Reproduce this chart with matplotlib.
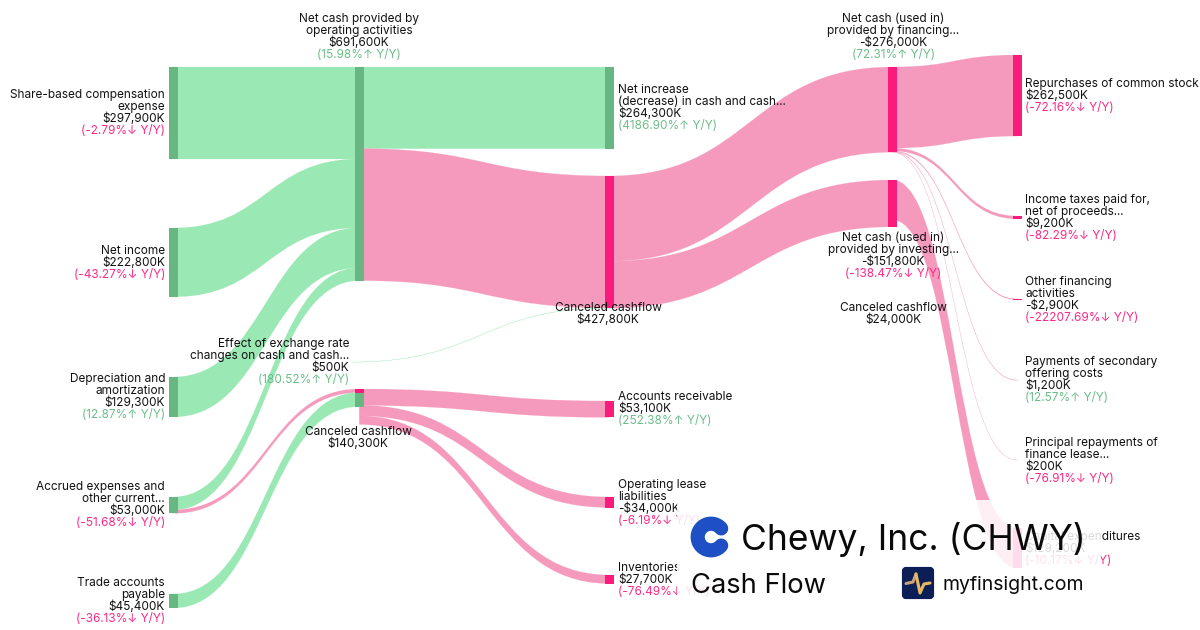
import numpy as np
import matplotlib
matplotlib.use("Agg")
import matplotlib.pyplot as plt
from matplotlib.path import Path
from matplotlib.patches import PathPatch, Rectangle, FancyBboxPatch

plt.rcParams['font.family'] = ['Inter', 'DejaVu Sans']

# ---------- data ----------
node_lines = [
    ["Share-based compensation", "expense"],
    ["Net income"],
    ["Depreciation and", "amortization"],
    ["Accrued expenses and", "other current..."],
    ["Trade accounts", "payable"],
    ["Net cash provided by", "operating activities"],
    ["Effect of exchange rate", "changes on cash and cash..."],
    ["Canceled cashflow"],
    ["Net increase", "(decrease) in cash and cash..."],
    ["Canceled cashflow"],
    ["Accounts receivable"],
    ["Operating lease", "liabilities"],
    ["Inventories"],
    ["Net cash (used in)", "provided by financing..."],
    ["Net cash (used in)", "provided by investing..."],
    ["Repurchases of common stock"],
    ["Income taxes paid for,", "net of proceeds..."],
    ["Other financing", "activities"],
    ["Payments of secondary", "offering costs"],
    ["Principal repayments of", "finance lease..."],
    ["Capital expenditures"],
    ["Canceled cashflow"],
]
node_values = [297900, 222800, 129300, 53000, 45400, 691600, 500, 140300, 264300, 427800,
               53100, -34000, 27700, -276000, -151800, 262500, 9200, -2900, 1200, 200, 129200, 24000]
node_yoy = [-2.79, -43.27, 12.87, -51.68, -36.13, 15.98, 180.52, None, 4186.90, None,
            252.38, -6.19, -76.49, 72.31, -138.47, -72.16, -82.29, -22207.69, 12.57, -76.91, -10.17, None]
node_kinds = list("gggggggppgppppppppppp") + ["n"]
node_kinds[7] = "g"; node_kinds[8] = "g"; node_kinds[9] = "p"

# link: source, target, value (K), kind
link_src = [0, 1, 2, 3, 3, 4, 5, 5, 6, 7, 7, 7, 9, 9, 13, 13, 13, 13, 13, 14]
link_dst = [5, 5, 5, 5, 7, 7, 8, 9, 9, 10, 11, 12, 13, 14, 15, 16, 17, 18, 19, 20]
link_val = [297900, 222800, 129300, 41600, 11400, 45400, 264300, 427300, 500, 53100, 34000, 27700,
            276000, 151800, 262500, 9200, 2900, 1200, 200, 129200]
link_kind = list("ggggpg") + ["g", "p", "g"] + ["p"] * 11

# ---------- layout (pixels) ----------
px_per_k = 92.0 / 297900
node_left = [169, 169, 169, 169, 169, 355, 348, 355, 605, 605, 605, 605, 605, 888, 888,
             1013, 1013, 1013, 1013, 1013, 1013, 885]
node_top = [67, 228, 377, 497, 594, 67, 362, 389, 67, 176, 401, 497, 575, 67, 180,
            55, 216, 299, 380, 460, 528, 300]
node_w = 8.5
# label: anchor x, alignment, centre y of first line
lab_x = [165] * 5 + [359, 349, 358] + [618, 608] + [618] * 3 + [893, 893] + [1025] * 6 + [893]
lab_ha = ["right"] * 5 + ["center", "right", "center", "left", "center"] + ["left"] * 3 + ["center"] * 2 + ["left"] * 6 + ["center"]
lab_y = [94, 250, 378, 486, 582, 18, 343, 431, 89, 307, 396, 484, 567, 18, 237,
         83, 199, 281, 361, 442, 536, 307]
PITCH = 12
FS = 8.52

GREEN_L, GREEN_D = "#9ae8b4", "#68b682"
PINK_L, PINK_D = "#f59abd", "#f91c7c"
TXT_G, TXT_P = "#6dbd8a", "#fb2a85"
INK = "#111111"

fig = plt.figure(figsize=(12, 6.3), dpi=100, facecolor="white")
ax = fig.add_axes([0, 0, 1, 1])
ax.set_xlim(0, 1200)
ax.set_ylim(630, 0)
ax.axis("off")

n = len(node_values)
in_sum = [sum(v for d, v in zip(link_dst, link_val) if d == i) for i in range(n)]
out_sum = [sum(v for s, v in zip(link_src, link_val) if s == i) for i in range(n)]
heights = [px_per_k * (in_sum[i] if in_sum[i] else out_sum[i]) for i in range(n)]

# links, stacked on their nodes
out_pos = list(node_top)
in_pos = list(node_top)
for s, d, v, k in zip(link_src, link_dst, link_val, link_kind):
    w = v * px_per_k
    x0 = node_left[s] + node_w / 2
    x1 = node_left[d] + node_w / 2
    xm = (x0 + x1) / 2
    y0, y1 = out_pos[s], in_pos[d]
    out_pos[s] += w
    in_pos[d] += w
    verts = [(x0, y0), (xm, y0), (xm, y1), (x1, y1),
             (x1, y1 + w), (xm, y1 + w), (xm, y0 + w), (x0, y0 + w), (x0, y0)]
    codes = [Path.MOVETO, Path.CURVE4, Path.CURVE4, Path.CURVE4,
             Path.LINETO, Path.CURVE4, Path.CURVE4, Path.CURVE4, Path.CLOSEPOLY]
    c = GREEN_L if k == "g" else PINK_L
    ax.add_patch(PathPatch(Path(verts, codes), facecolor=c, edgecolor=c, lw=0.12, zorder=1))

# nodes
for i in range(n):
    if node_kinds[i] == "n":
        continue
    c = GREEN_D if node_kinds[i] == "g" else PINK_D
    ax.add_patch(Rectangle((node_left[i], node_top[i]), node_w, heights[i], facecolor=c, edgecolor="none", zorder=2))
# the top of the small "Canceled cashflow" node comes from its pink inflow
ax.add_patch(Rectangle((node_left[7], node_top[7]), node_w, link_val[4] * px_per_k, facecolor=PINK_D, edgecolor="none", zorder=2.1))


def money(v):
    return ("-" if v < 0 else "") + "$" + f"{abs(v):,}K"


for i in range(n):
    y = lab_y[i]
    rows = [(t, INK) for t in node_lines[i]] + [(money(node_values[i]), INK)]
    if node_yoy[i] is not None:
        up = node_yoy[i] > 0
        rows.append((f"({node_yoy[i]:.2f}%{'↑' if up else '↓'} Y/Y)", TXT_G if up else TXT_P))
    for t, c in rows:
        ax.text(lab_x[i], y + 4.4, t, ha=lab_ha[i], va="baseline", fontsize=FS, color=c, zorder=3)
        y += PITCH

# branding panel
ax.add_patch(Rectangle((677, 500), 424, 122, facecolor="white", edgecolor="none", alpha=0.85, zorder=4))
ang = np.radians(np.linspace(40, 320, 80))
ax.plot(711 + 13.3 * np.cos(ang), 537 - 13.3 * np.sin(ang), color="#1f4fc4", lw=10.2,
        solid_capstyle="round", zorder=5)
ax.text(741, 550, "Chewy, Inc. (CHWY)", fontsize=25.55, color="#0a0a0a", ha="left", va="baseline", zorder=5)
ax.text(691, 593, "Cash Flow", fontsize=19.7, color="#0a0a0a", ha="left", va="baseline", zorder=5)
ax.add_patch(FancyBboxPatch((904, 569), 28, 28, boxstyle="round,pad=0,rounding_size=2", linewidth=3,
                            edgecolor="#0b1f56", facecolor="#0b1f56", zorder=5))
ax.plot([906, 913, 916], [583.5, 582, 574], color="#c9a27a", lw=2.2, solid_capstyle="round", zorder=6)
ax.plot([916, 920, 924, 930], [574, 593, 584, 583], color="#e8b860", lw=2.2, solid_capstyle="round",
        solid_joinstyle="round", zorder=6)
ax.text(943, 590, "myfinsight.com", fontsize=14.0, color="#0a0a0a", ha="left", va="baseline", zorder=5)

fig.savefig("out.png", dpi=100, facecolor="white")
